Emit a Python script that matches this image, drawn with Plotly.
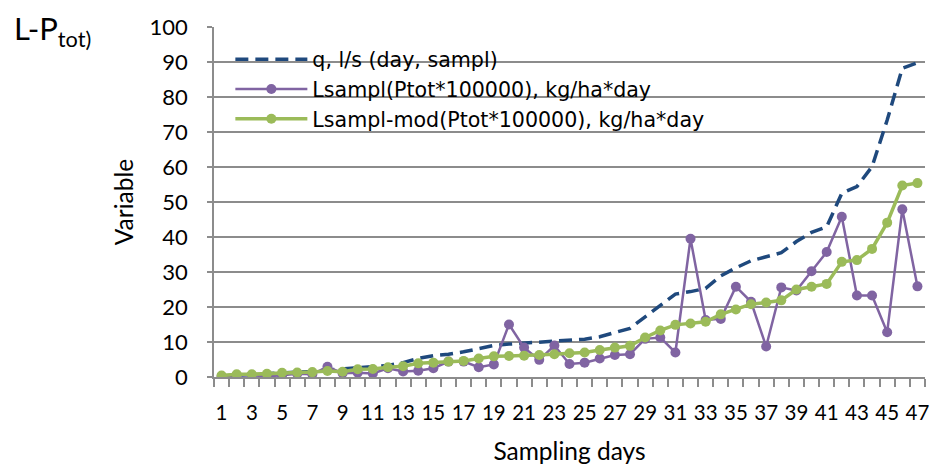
import plotly.graph_objects as go

days = list(range(1, 48))
tick_days = list(range(1, 48, 2))
tick_labels = [str(d) for d in tick_days]

q_flow = [0.3, 0.5, 0.6, 0.8, 1.0, 1.3, 1.6, 2.0, 2.3, 2.6, 2.9, 3.3, 4.1, 5.3, 6.1,
          6.5, 7.2, 8.0, 9.0, 9.4, 9.7, 9.9, 10.1, 10.4, 10.8, 11.5, 12.8, 13.9, 17.2,
          20.6, 23.7, 24.4, 25.3, 28.9, 31.2, 33.2, 34.4, 35.5, 38.7, 41.3, 42.9, 52.5,
          54.4, 60.1, 73.4, 88.2, 89.8]

l_sampl = [0.2, 0.5, 0.5, 0.2, 0.5, 0.9, 0.8, 2.9, 1.1, 1.2, 1.0, 2.5, 1.6, 1.8, 2.5,
           4.4, 4.4, 2.8, 3.6, 15.0, 8.4, 4.9, 9.0, 3.7, 4.1, 5.3, 6.3, 6.5, 10.9, 11.3,
           7.0, 39.5, 16.3, 16.6, 25.8, 21.5, 8.7, 25.6, 24.7, 30.2, 35.7, 45.8, 23.3,
           23.3, 12.8, 47.9, 25.9]

l_mod = [0.4, 0.8, 0.8, 0.9, 1.2, 1.3, 1.4, 1.7, 1.5, 2.2, 2.3, 2.8, 3.1, 3.9, 4.1,
         4.4, 4.6, 5.3, 5.9, 6.0, 6.1, 6.3, 6.5, 6.8, 7.0, 7.7, 8.4, 8.9, 11.3, 13.3,
         14.9, 15.3, 15.8, 17.9, 19.3, 20.8, 21.3, 21.9, 25.0, 25.8, 26.6, 32.9, 33.4,
         36.6, 44.1, 54.7, 55.4]

FONT = "Lato"
LEG_FONT = "DejaVu Sans"
GRID = "#8C8C8C"

fig = go.Figure()
fig.add_trace(go.Scatter(
    x=days, y=q_flow, mode="lines", name="q, l/s (day, sampl)",
    line=dict(color="#1F497D", width=3.5, dash="13px,7px")))
fig.add_trace(go.Scatter(
    x=days, y=l_sampl, mode="lines+markers", name="Lsampl(Ptot*100000), kg/ha*day",
    line=dict(color="#8064A2", width=2.5), marker=dict(size=10, color="#8064A2")))
fig.add_trace(go.Scatter(
    x=days, y=l_mod, mode="lines+markers", name="Lsampl-mod(Ptot*100000), kg/ha*day",
    line=dict(color="#9BBB59", width=3.5), marker=dict(size=10, color="#9BBB59")))

# white backing panel of the legend (hides the grid behind it, like the original)
fig.add_shape(type="rect", xref="paper", yref="paper",
              x0=0.017, x1=0.73, y0=0.71, y1=0.975,
              fillcolor="white", line=dict(width=0), layer="between")

fig.update_layout(
    width=930, height=465,
    margin=dict(l=214, r=5, t=27, b=88, autoexpand=False),
    paper_bgcolor="white", plot_bgcolor="white",
    font=dict(family=FONT, size=22, color="black"),
    showlegend=True,
    legend=dict(x=0.023, y=0.965, xanchor="left", yanchor="top",
                bgcolor="rgba(0,0,0,0)", font=dict(size=20.6, family=LEG_FONT),
                itemwidth=72, tracegroupgap=0),
    xaxis=dict(range=[0.5, 47.5], tickmode="array", tickvals=tick_days,
               ticktext=tick_labels, ticks="", showgrid=False, zeroline=False,
               showline=True, linecolor=GRID, linewidth=1.5, automargin=False,
               ticklabelstandoff=17, ticklabeloverflow="allow",
               tickfont=dict(size=20.5, family=FONT),
               minor=dict(tick0=0.5, dtick=1, ticks="outside", ticklen=8,
                          tickcolor=GRID, tickwidth=1.5, showgrid=False),
               title=dict(text="Sampling days", font=dict(size=24.5, family=FONT),
                          standoff=21)),
    yaxis=dict(range=[0, 100], dtick=10, showgrid=True, gridcolor=GRID, gridwidth=1.5,
               zeroline=False, showline=True, linecolor=GRID, linewidth=1.5,
               automargin=False,
               ticks="outside", ticklen=5, tickcolor=GRID, tickwidth=1.5,
               ticklabelstandoff=15,
               tickfont=dict(size=22, family=FONT),
               title=dict(text="Variable", font=dict(size=24.5, family=FONT), standoff=9)),
)

fig.add_annotation(text="L-P<sub>tot)</sub>", xref="paper", yref="paper",
                   x=-0.284, y=1.057, xanchor="left", yanchor="top", showarrow=False,
                   font=dict(size=31, family=FONT, color="black"))

fig.write_html("out.html", config={"displayModeBar": False},
               post_script="document.body.style.margin='0px';")
